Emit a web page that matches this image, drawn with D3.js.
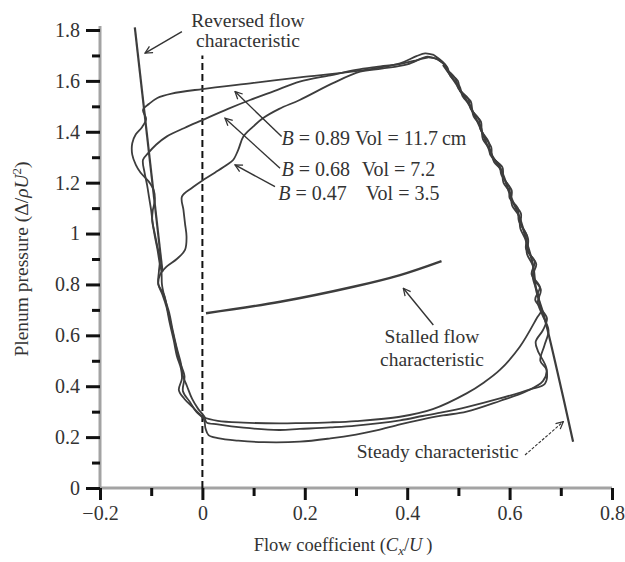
<!DOCTYPE html>
<html>
<head>
<meta charset="utf-8">
<script src="https://cdn.jsdelivr.net/npm/d3@7"></script>
<style>
  html, body { margin: 0; padding: 0; background: #fff; }
  svg { display: block; font-family: "Liberation Serif", "DejaVu Serif", serif; }
</style>
</head>
<body>
<svg id="chart" width="625" height="562"></svg>
<script>
// ---- axis ticks ----
const xMajorTicks = [-0.2, 0, 0.2, 0.4, 0.6, 0.8];
const xTickLabels = ["\u22120.2", "0", "0.2", "0.4", "0.6", "0.8"];
const xMinorTicks = [-0.1, 0.1, 0.3, 0.5, 0.7];
const yMajorTicks = [0, 0.2, 0.4, 0.6, 0.8, 1.0, 1.2, 1.4, 1.6, 1.8];
const yTickLabels = ["0", "0.2", "0.4", "0.6", "0.8", "1", "1.2", "1.4", "1.6", "1.8"];
const yMinorTicks = [0.1, 0.3, 0.5, 0.7, 0.9, 1.1, 1.3, 1.5, 1.7];

// ---- surge cycles: [flow coefficient, plenum pressure] ----
const loopB089 = [
  [0.452,1.702],[0.435,1.708],[0.418,1.697],[0.386,1.669],[0.30,1.638],[0.19,1.614],[0.10,1.592],
  [0.0,1.568],[-0.06,1.55],[-0.088,1.533],[-0.104,1.51],[-0.116,1.486],[-0.11,1.45],[-0.118,1.418],
  [-0.13,1.39],[-0.137,1.355],[-0.137,1.31],[-0.13,1.27],[-0.121,1.24],[-0.105,1.205],[-0.095,1.17],
  [-0.093,1.13],[-0.097,1.09],[-0.098,1.05],[-0.093,1.0],[-0.088,0.95],[-0.083,0.9],[-0.085,0.85],
  [-0.086,0.8],[-0.075,0.76],[-0.068,0.7],[-0.06,0.63],[-0.052,0.56],[-0.045,0.5],[-0.035,0.44],
  [-0.038,0.38],[-0.025,0.34],[-0.012,0.3],[0.003,0.27],[0.006,0.235],[0.012,0.208],[0.03,0.196],
  [0.07,0.186],[0.12,0.18],[0.19,0.182],[0.25,0.195],[0.30,0.21],[0.34,0.226],[0.386,0.25],
  [0.43,0.27],[0.47,0.285],[0.516,0.30],[0.581,0.342],[0.633,0.38],[0.665,0.42],[0.672,0.465],
  [0.66,0.50],[0.668,0.56],[0.676,0.62],[0.664,0.68],[0.655,0.73],[0.661,0.78],[0.645,0.83],
  [0.652,0.88],[0.636,0.93],[0.636,0.98],[0.622,1.04],[0.622,1.08],[0.604,1.13],[0.604,1.17],
  [0.588,1.22],[0.586,1.26],[0.566,1.30],[0.564,1.34],[0.546,1.40],[0.544,1.44],[0.528,1.48],
  [0.524,1.52],[0.503,1.56],[0.499,1.60],[0.48,1.635],[0.474,1.665],[0.46,1.69],[0.452,1.702]
];
const loopB068 = [
  [0.46,1.685],[0.44,1.692],[0.42,1.682],[0.39,1.668],[0.34,1.655],[0.30,1.643],[0.25,1.622],
  [0.19,1.597],[0.14,1.56],[0.093,1.525],[0.05,1.49],[0.0,1.446],[-0.035,1.415],[-0.07,1.381],
  [-0.09,1.35],[-0.106,1.316],[-0.116,1.29],[-0.113,1.24],[-0.108,1.19],[-0.104,1.14],[-0.1,1.09],
  [-0.097,1.04],[-0.093,0.99],[-0.088,0.94],[-0.084,0.89],[-0.08,0.85],[-0.079,0.8],[-0.074,0.75],
  [-0.065,0.69],[-0.058,0.62],[-0.05,0.55],[-0.042,0.49],[-0.038,0.44],[-0.03,0.4],[-0.02,0.35],
  [-0.008,0.31],[0.004,0.28],[0.008,0.258],[0.03,0.25],[0.08,0.237],[0.15,0.228],[0.19,0.232],
  [0.25,0.238],[0.30,0.245],[0.386,0.266],[0.43,0.283],[0.47,0.298],[0.516,0.318],[0.581,0.352],
  [0.64,0.388],[0.669,0.41],[0.672,0.47],[0.655,0.54],[0.651,0.575],[0.665,0.62],[0.673,0.666],
  [0.66,0.71],[0.656,0.76],[0.646,0.82],[0.646,0.87],[0.634,0.92],[0.632,0.97],[0.621,1.02],
  [0.618,1.07],[0.605,1.11],[0.601,1.16],[0.588,1.2],[0.584,1.25],[0.57,1.28],[0.562,1.33],
  [0.548,1.37],[0.544,1.42],[0.53,1.46],[0.524,1.50],[0.508,1.54],[0.502,1.58],[0.484,1.62],
  [0.478,1.655],[0.466,1.675],[0.46,1.685]
];
const loopB047 = [
  [0.455,1.688],[0.44,1.695],[0.43,1.69],[0.40,1.665],[0.35,1.648],[0.308,1.636],[0.255,1.591],
  [0.19,1.525],[0.15,1.49],[0.118,1.453],[0.099,1.42],[0.08,1.381],[0.07,1.329],[0.06,1.289],
  [0.048,1.27],[0.025,1.24],[0.002,1.211],[-0.02,1.18],[-0.04,1.145],[-0.037,1.093],[-0.034,1.04],
  [-0.031,0.988],[-0.034,0.936],[-0.05,0.90],[-0.07,0.87],[-0.083,0.837],[-0.086,0.80],[-0.078,0.76],
  [-0.07,0.71],[-0.064,0.65],[-0.056,0.58],[-0.05,0.52],[-0.042,0.47],[-0.04,0.43],[-0.046,0.385],
  [-0.035,0.35],[-0.02,0.32],[-0.005,0.29],[0.003,0.278],[0.03,0.264],[0.08,0.257],[0.15,0.254],
  [0.19,0.255],[0.25,0.258],[0.30,0.263],[0.386,0.28],[0.45,0.31],[0.516,0.372],[0.55,0.415],
  [0.581,0.464],[0.62,0.555],[0.653,0.667],[0.662,0.70],[0.65,0.74],[0.659,0.79],[0.643,0.84],
  [0.649,0.89],[0.632,0.94],[0.634,0.99],[0.618,1.05],[0.616,1.10],[0.6,1.14],[0.6,1.18],
  [0.584,1.23],[0.58,1.27],[0.562,1.31],[0.559,1.36],[0.543,1.41],[0.54,1.45],[0.524,1.49],
  [0.519,1.53],[0.5,1.57],[0.494,1.61],[0.478,1.645],[0.47,1.67],[0.455,1.688]
];

// ---- characteristics ----
const reversedFlow = [[-0.132, 1.81], [-0.078, 0.85]];
const steadyChar = [
  [0.724,0.182],[0.693,0.46],[0.668,0.67],[0.652,0.778],[0.646,0.873],[0.634,0.963],[0.62,1.061],
  [0.601,1.152],[0.585,1.242],[0.562,1.321],[0.542,1.419],[0.523,1.498],[0.497,1.584],[0.47,1.663]
];
const stalledFlow = [[0.007,0.687],[0.152,0.732],[0.295,0.791],[0.386,0.837],[0.467,0.892]];
const zeroFlow = [[0, 0], [0, 1.70]];

// ---- annotations (data units) ----
const arrows = [
  { from: [-0.04, 1.794], to: [-0.112, 1.709], dashed: false },
  { from: [0.1547, 1.381], to: [0.0637, 1.558], dashed: false },
  { from: [0.1516, 1.2567], to: [0.0441, 1.4532], dashed: false },
  { from: [0.1418, 1.1843], to: [0.0637, 1.2696], dashed: false },
  { from: [0.451, 0.6407], to: [0.3924, 0.785], dashed: false },
  { from: [0.6301, 0.1297], to: [0.7049, 0.2606], dashed: true }
];
const surgeLabels = [
  { b: "0.89", vol: "11.7\u2009cm", at: [0.1547, 1.348], volX: 0.298 },
  { b: "0.68", vol: "7.2", at: [0.1547, 1.2245], volX: 0.311 },
  { b: "0.47", vol: "3.5", at: [0.148, 1.130], volX: 0.319 }
];
const notes = [
  { lines: ["Reversed flow", "characteristic"], x: 0.089, y: [1.813, 1.735], anchor: "middle" },
  { lines: ["Stalled flow", "characteristic"], x: 0.4484, y: [0.570, 0.4796], anchor: "middle" },
  { lines: ["Steady characteristic"], x: 0.3014, y: [0.118], anchor: "start" }
];

// ---- drawing ----
const svg = d3.select("#chart");
const x = d3.scaleLinear().domain([-0.2, 0.8]).range([100, 612]);
const y = d3.scaleLinear().domain([0, 1.8]).range([488, 30]);

const ink = "#333";
const curveInk = "#3d3d3d";

svg.append("defs").append("marker")
  .attr("id", "head")
  .attr("viewBox", "0 0 10 10")
  .attr("refX", 9).attr("refY", 5)
  .attr("markerWidth", 9).attr("markerHeight", 9)
  .attr("markerUnits", "userSpaceOnUse")
  .attr("orient", "auto")
  .append("path")
  .attr("d", "M1,1 L9,5 L1,9")
  .attr("fill", "none").attr("stroke", ink).attr("stroke-width", 1.4);

// axes
const gx = svg.append("g").attr("transform", `translate(0,${y(0)})`);
const gy = svg.append("g").attr("transform", `translate(${x(-0.2)},0)`);

gx.append("line").attr("x1", x(-0.2)).attr("x2", x(0.8)).attr("stroke", "#a3a3a3").attr("stroke-width", 3);
gy.append("line").attr("y1", y(0)).attr("y2", y(1.8) - 4).attr("stroke", "#a3a3a3").attr("stroke-width", 3);

function styleAxis(g) {
  g.select(".domain").remove();
  g.selectAll(".tick line").attr("stroke", "#111").attr("stroke-width", 3);
  g.selectAll(".tick text").attr("fill", ink).style("font-size", "20px")
    .style("font-family", "'Liberation Serif', serif");
}

gx.append("g").call(d3.axisBottom(x).tickValues(xMinorTicks).tickSize(8).tickFormat(""))
  .call(styleAxis);
gx.append("g").call(d3.axisBottom(x).tickValues(xMajorTicks).tickSize(12).tickPadding(6)
  .tickFormat((d, i) => xTickLabels[i])).call(styleAxis);
gy.append("g").call(d3.axisLeft(y).tickValues(yMinorTicks).tickSize(8).tickFormat(""))
  .call(styleAxis);
gy.append("g").call(d3.axisLeft(y).tickValues(yMajorTicks).tickSize(14).tickPadding(6)
  .tickFormat((d, i) => yTickLabels[i])).call(styleAxis);

// axis titles
const yTitle = svg.append("text")
  .attr("transform", `translate(28,${(y(0) + y(1.8)) / 2}) rotate(-90)`)
  .attr("text-anchor", "middle").attr("fill", ink).style("font-size", "19.5px");
yTitle.append("tspan").text("Plenum pressure (\u0394/");
yTitle.append("tspan").attr("font-style", "italic").text("\u03C1U");
yTitle.append("tspan").attr("dy", -7).style("font-size", "13px").text("2");
yTitle.append("tspan").attr("dy", 7).text(")");

const xTitle = svg.append("text")
  .attr("x", 343).attr("y", 551)
  .attr("text-anchor", "middle").attr("fill", ink).style("font-size", "18.5px");
xTitle.append("tspan").text("Flow coefficient (");
xTitle.append("tspan").attr("font-style", "italic").text("C");
xTitle.append("tspan").attr("font-style", "italic").attr("dy", 4).style("font-size", "13px").text("x");
xTitle.append("tspan").attr("dy", -4).text("/");
xTitle.append("tspan").attr("font-style", "italic").text("U");
xTitle.append("tspan").text("\u2009)");

// zero-flow dashed line
svg.append("path")
  .attr("d", d3.line().x(d => x(d[0])).y(d => y(d[1]))(zeroFlow))
  .attr("fill", "none").attr("stroke", "#111").attr("stroke-width", 2)
  .attr("stroke-dasharray", "7,4");

// characteristics and surge cycles
const smooth = d3.line().x(d => x(d[0])).y(d => y(d[1])).curve(d3.curveCatmullRom.alpha(0.5));
const straight = d3.line().x(d => x(d[0])).y(d => y(d[1]));

svg.append("path").attr("d", straight(reversedFlow))
  .attr("fill", "none").attr("stroke", curveInk).attr("stroke-width", 2.2);
svg.append("path").attr("d", smooth(steadyChar))
  .attr("fill", "none").attr("stroke", curveInk).attr("stroke-width", 2.2);
svg.append("path").attr("d", smooth(stalledFlow))
  .attr("fill", "none").attr("stroke", curveInk).attr("stroke-width", 2.4);

[loopB089, loopB068, loopB047].forEach(loop => {
  svg.append("path").attr("d", smooth(loop))
    .attr("fill", "none").attr("stroke", curveInk).attr("stroke-width", 1.8)
    .attr("stroke-linejoin", "round");
});

// arrows
arrows.forEach(a => {
  svg.append("line")
    .attr("x1", x(a.from[0])).attr("y1", y(a.from[1]))
    .attr("x2", x(a.to[0])).attr("y2", y(a.to[1]))
    .attr("stroke", ink).attr("stroke-width", a.dashed ? 1.1 : 1.4)
    .attr("stroke-dasharray", a.dashed ? "3,1.5" : null)
    .attr("marker-end", "url(#head)");
});

// labels
surgeLabels.forEach(s => {
  const t = svg.append("text").attr("x", x(s.at[0])).attr("y", y(s.at[1]))
    .attr("fill", ink).style("font-size", "20px");
  t.append("tspan").attr("font-style", "italic").text("B");
  t.append("tspan").text(" = " + s.b);
  svg.append("text").attr("x", x(s.volX)).attr("y", y(s.at[1]))
    .attr("fill", ink).style("font-size", "20px").text("Vol = " + s.vol);
});

notes.forEach(n => {
  n.lines.forEach((line, i) => {
    svg.append("text").attr("x", x(n.x)).attr("y", y(n.y[i]))
      .attr("text-anchor", n.anchor).attr("fill", ink)
      .style("font-size", "19.5px").text(line);
  });
});
</script>
</body>
</html>
